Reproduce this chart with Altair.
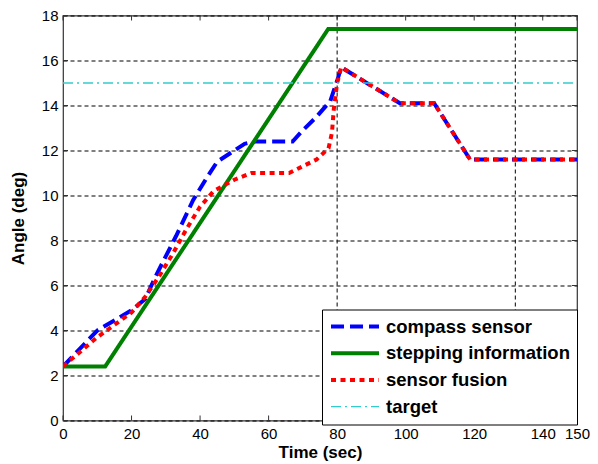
import altair as alt
import pandas as pd

# ---- data ----
compass_t = [0, 10, 20, 24, 27, 33, 38, 42, 45, 49, 53, 56, 67, 70, 74, 78, 80, 81.2, 98.3, 108.3, 118.8, 150]
compass_v = [2.4, 4.0, 4.9, 5.4, 6.4, 8.2, 9.8, 10.8, 11.5, 11.9, 12.3, 12.4, 12.4, 12.9, 13.5, 14.2, 15.1, 15.7, 14.1, 14.1, 11.6, 11.6]

stepping_t = [0, 12.3, 77.4, 150]
stepping_v = [2.4, 2.4, 17.4, 17.4]

fusion_t = [0, 10, 20, 24, 28, 32, 36, 40, 44, 50, 55, 66, 70, 74, 77.5, 78.5, 79, 80, 81.2, 98.3, 108.3, 118.8, 150]
fusion_v = [2.4, 3.7, 4.8, 5.5, 6.4, 7.4, 8.5, 9.5, 10.2, 10.7, 11.0, 11.0, 11.3, 11.6, 12.1, 12.8, 13.8, 15.0, 15.7, 14.1, 14.1, 11.6, 11.6]

target_t = [0, 150]
target_v = [15, 15]

series_names = ["compass sensor", "stepping information", "sensor fusion", "target"]
series_colors = ["#0000ff", "#008000", "#ff0000", "#33cccc"]
series_dashes = [[13, 6], [1, 0], [5, 4.5], [10, 4, 2, 4]]
series_widths = [4, 4, 4, 1.3]

x_ticks = [0, 20, 40, 60, 80, 100, 120, 140, 150]
y_ticks = [0, 2, 4, 6, 8, 10, 12, 14, 16, 18]
x_grid = [80, 132]

W, H = 514, 405

rows = []
for name, ts, vs in zip(series_names,
                        [compass_t, stepping_t, fusion_t, target_t],
                        [compass_v, stepping_v, fusion_v, target_v]):
    for i, (t, v) in enumerate(zip(ts, vs)):
        rows.append({"series": name, "t": t, "v": v, "k": i})
df = pd.DataFrame(rows)

xs = alt.Scale(domain=[0, 150], nice=False, zero=False)
ys = alt.Scale(domain=[0, 18], nice=False, zero=False)

x_axis = alt.Axis(values=x_ticks, grid=False, ticks=False, domain=False,
                  labelFont="Liberation Sans", labelFontSize=15, labelColor="black",
                  labelPadding=6, title="Time (sec)", titleFont="Liberation Sans",
                  titleFontSize=17, titleFontWeight="bold", titleColor="black",
                  titlePadding=3, labelFlush=False)
y_axis = alt.Axis(values=y_ticks, grid=True, gridDash=[4, 3], gridColor="black",
                  gridOpacity=1, gridWidth=1, ticks=False, domain=False,
                  labelFont="Liberation Sans", labelFontSize=15, labelColor="black",
                  labelPadding=5, title="Angle (deg)", titleFont="Liberation Sans",
                  titleFontSize=17, titleFontWeight="bold", titleColor="black",
                  titlePadding=14)

X = lambda f="t": alt.X(f"{f}:Q", scale=xs, axis=x_axis)
Y = lambda f="v": alt.Y(f"{f}:Q", scale=ys, axis=y_axis)

legend = alt.Legend(title=None, orient="none", legendX=259, legendY=294,
                    symbolType="stroke", symbolSize=2304, clipHeight=20,
                    rowPadding=6.7, padding=7, strokeColor="black",
                    fillColor="white", cornerRadius=0, labelOffset=5,
                    labelFont="Liberation Sans", labelFontSize=18.5,
                    labelFontWeight="bold", labelColor="black", labelLimit=400,
                    symbolOffset=0)

lines = alt.Chart(df).mark_line(clip=True).encode(
    x=X(), y=Y(),
    color=alt.Color("series:N", scale=alt.Scale(domain=series_names, range=series_colors),
                    legend=legend, sort=series_names),
    strokeDash=alt.StrokeDash("series:N", scale=alt.Scale(domain=series_names, range=series_dashes),
                              legend=legend, sort=series_names),
    strokeWidth=alt.StrokeWidth("series:N",
                                scale=alt.Scale(type="ordinal", domain=series_names, range=series_widths),
                                legend=legend, sort=series_names),
    order=alt.Order("k:Q"),
)

grid_df = pd.DataFrame({"t": x_grid})
vgrid = alt.Chart(grid_df).mark_rule(color="black", strokeDash=[4, 3], strokeWidth=1).encode(x=X())

xt_df = pd.DataFrame({"t": x_ticks})
yt_df = pd.DataFrame({"v": y_ticks})
tick_style = dict(color="#333333", strokeWidth=1)
tb = alt.Chart(xt_df).mark_rule(**tick_style).encode(x=X(), y=alt.value(H), y2=alt.value(H - 5))
tt = alt.Chart(xt_df).mark_rule(**tick_style).encode(x=X(), y=alt.value(0), y2=alt.value(5))
tl = alt.Chart(yt_df).mark_rule(**tick_style).encode(y=Y(), x=alt.value(0), x2=alt.value(5))
tr = alt.Chart(yt_df).mark_rule(**tick_style).encode(y=Y(), x=alt.value(W), x2=alt.value(W - 5))

chart = alt.layer(vgrid, tb, tt, tl, tr, lines).properties(
    width=W, height=H,
    autosize=alt.AutoSizeParams(type="none"),
    padding={"left": 55, "top": 7.5, "right": 13, "bottom": 52},
).configure_view(stroke="#333333", strokeWidth=1.2)

chart.save("out.html", embed_options={"renderer": "svg", "actions": False})
